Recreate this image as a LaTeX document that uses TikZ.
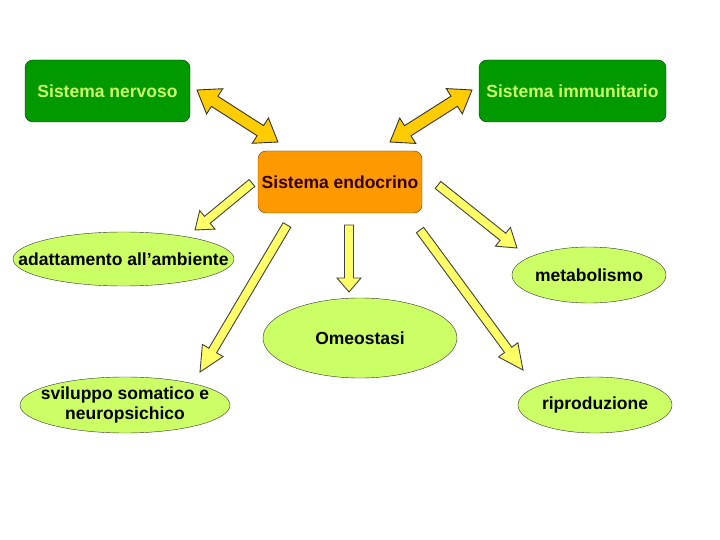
\documentclass[tikz,border=0pt]{standalone}
\usepackage{fontspec}
\setmainfont{Liberation Sans}
\usetikzlibrary{calc,shapes.geometric}
\definecolor{boxgreen}{HTML}{009900}
\definecolor{boxorange}{HTML}{FF9900}
\definecolor{lime}{HTML}{CCFF66}
\definecolor{arrowyellow}{HTML}{FFFF66}
\definecolor{arrowgold}{HTML}{FFCC00}
\definecolor{darkbrown}{HTML}{330000}

\tikzset{
  sysbox/.style={draw=black!60!boxgreen, fill=boxgreen, rounded corners=8pt, minimum height=62pt, inner sep=0pt, text=lime, font=\bfseries\fontsize{17.5}{20}\selectfont},
  endobox/.style={sysbox, draw=black!60!boxorange, fill=boxorange, text=darkbrown},
  effect/.style={ellipse, draw=black!80, fill=lime, inner sep=0pt, minimum height=56pt, align=center, font=\bfseries\fontsize{17.5}{20}\selectfont},
  yarrow/.style={fill=arrowyellow, draw=black!75, line width=0.9pt, line join=miter},
  oarrow/.style={fill=arrowgold, draw=black!80, line width=0.9pt, line join=miter}
}

% single block arrow: from, to, head length
\newcommand\onearrow[3]{%
  \coordinate (hb) at ($(#2)!#3pt!(#1)$);
  \filldraw[yarrow] ($(#1)!4.5pt!90:(#2)$) -- ($(hb)!4.5pt!90:(#2)$) -- ($(hb)!12pt!90:(#2)$) -- (#2)
    -- ($(hb)!12pt!-90:(#2)$) -- ($(hb)!4.5pt!-90:(#2)$) -- ($(#1)!4.5pt!-90:(#2)$) -- cycle;}
% double block arrow: from, to
\newcommand\twoarrow[2]{%
  \coordinate (ha) at ($(#1)!21pt!(#2)$); \coordinate (hb) at ($(#2)!21pt!(#1)$);
  \filldraw[oarrow] (#1) -- ($(ha)!15pt!90:(#2)$) -- ($(ha)!6pt!90:(#2)$) -- ($(hb)!6pt!90:(#2)$) -- ($(hb)!15pt!90:(#2)$) -- (#2)
    -- ($(hb)!15pt!-90:(#2)$) -- ($(hb)!6pt!-90:(#2)$) -- ($(ha)!6pt!-90:(#2)$) -- ($(ha)!15pt!-90:(#2)$) -- cycle;}

\begin{document}
\begin{tikzpicture}[x=1pt,y=-1pt]
\useasboundingbox (0,0) rectangle (720,540);
% top row and centre
\node[sysbox, minimum width=165pt] (nervoso) at (107.5,91) {Sistema nervoso};
\node[sysbox, minimum width=187pt] (immuni) at (572.5,91) {Sistema immunitario};
\node[endobox, minimum width=164pt] (endo) at (340,182) {Sistema endocrino};
% effects (long texts run over the ellipse, as in the slide)
\node[effect, inner xsep=-29pt, minimum width=221pt, minimum height=54pt] (adatt) at (123.5,259) {adattamento all’ambiente};
\node[effect, minimum width=154pt] (metab) at (589,275) {metabolismo};
\node[effect, minimum width=194pt, minimum height=80pt] (omeo) at (360,338) {Omeostasi};
\node[effect, inner xsep=-10pt, minimum width=210pt] (svil) at (125,405) {sviluppo somatico e\\neuropsichico};
\node[effect, minimum width=154pt] (ripro) at (595,405) {riproduzione};
% arrow ends
\coordinate (nerv-e) at (197,90); \coordinate (endo-nw) at (278,142);
\coordinate (immu-w) at (472,90); \coordinate (endo-ne) at (390,142);
\coordinate (endo-w) at (252,183); \coordinate (adatt-n) at (195,230);
\coordinate (endo-sw) at (287,225); \coordinate (svil-n) at (200,372);
\coordinate (endo-s) at (349,225); \coordinate (omeo-n) at (349,292);
\coordinate (endo-e) at (438,185); \coordinate (metab-n) at (517,248);
\coordinate (endo-se) at (420,230); \coordinate (ripro-n) at (523,370);
\twoarrow{nerv-e}{endo-nw} \twoarrow{immu-w}{endo-ne}
\foreach \a/\b/\h in {endo-w/adatt-n/16, endo-sw/svil-n/25, endo-s/omeo-n/14, endo-e/metab-n/18, endo-se/ripro-n/25} { \onearrow{\a}{\b}{\h} };
\end{tikzpicture}
\end{document}
